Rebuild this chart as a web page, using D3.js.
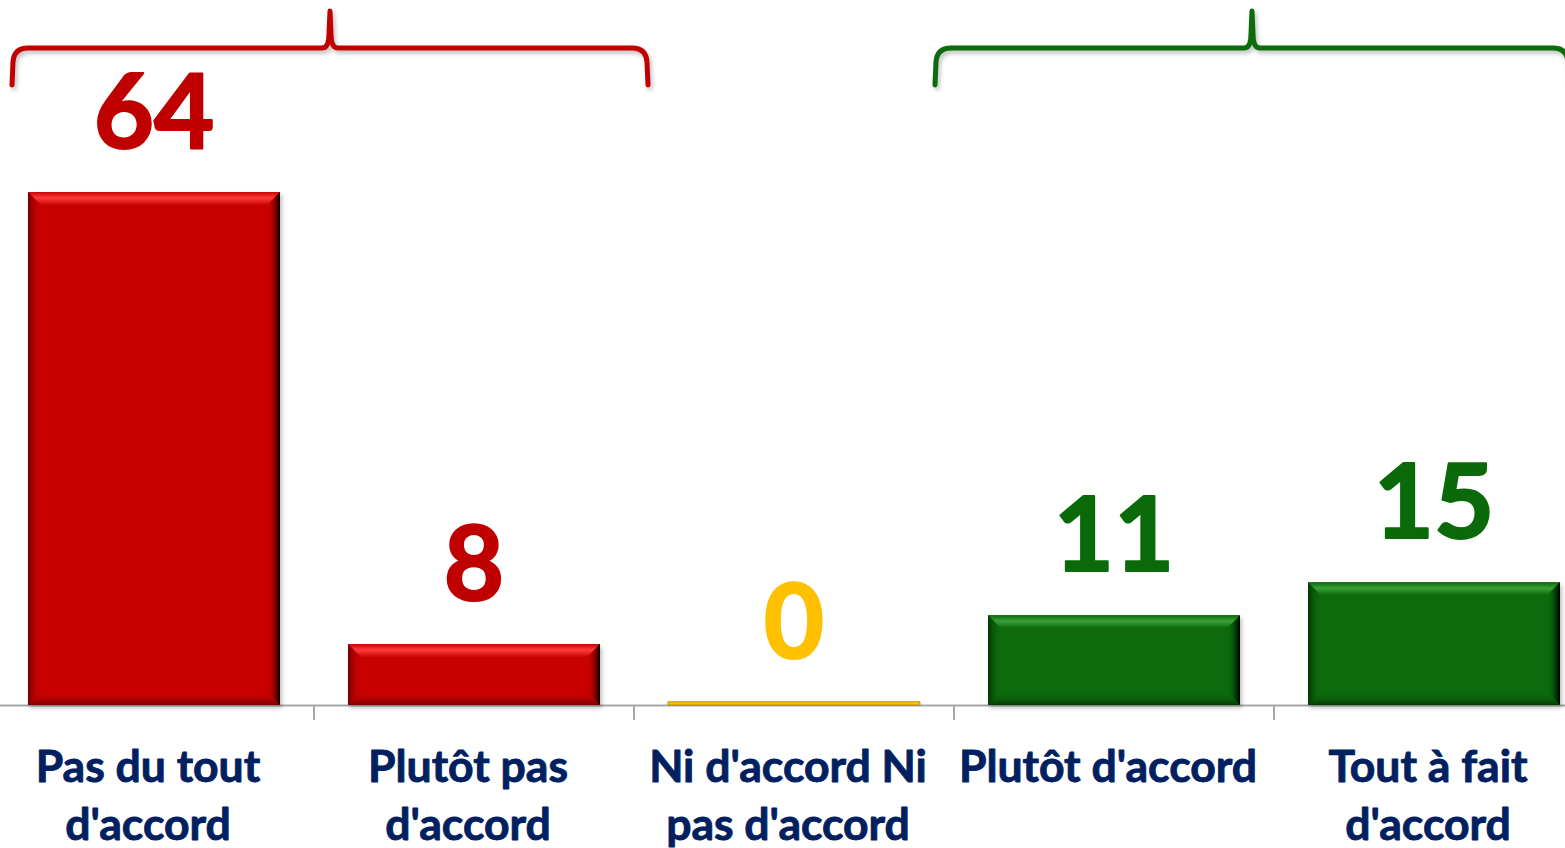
<!DOCTYPE html>
<html><head><meta charset="utf-8">
<script src="https://cdn.jsdelivr.net/npm/d3@7"></script>
<style>html,body{margin:0;padding:0;background:#fff;overflow:hidden}</style>
</head><body>
<svg id="chart" width="1565" height="848"></svg>
<script>
// ---- data ----
const categories = ["Pas du tout d'accord", "Plutôt pas d'accord", "Ni d'accord Ni pas d'accord", "Plutôt d'accord", "Tout à fait d'accord"];
const categoryLines = [["Pas du tout", "d'accord"], ["Plutôt pas", "d'accord"], ["Ni d'accord Ni", "pas d'accord"], ["Plutôt d'accord"], ["Tout à fait", "d'accord"]];
const values = [64, 7.6, 0.4, 11.2, 15.3];
const valueLabels = ["64", "8", "0", "11", "15"];
const groups = ["neg", "neg", "neutral", "pos", "pos"];
const braceGroups = [{key: "neg", from: 0, to: 1}, {key: "pos", from: 3, to: 4}];

// ---- styles ----
const colors = {neg: "#C80606", pos: "#086A08", neutral: "#FFC000"};
const labelColors = {neg: "#C00000", pos: "#0A6A0A", neutral: "#FFC000"};
const dark = {neg: "#5a0000", pos: "#012a01", neutral: "#b08000"};
const light = {neg: "#ff3a3a", pos: "#3aa03a", neutral: "#ffe070"};

const svg = d3.select("#chart");
const W = 1565, H = 848;
const baseY = 705;

const x = d3.scaleBand().domain(categories).range([-6, 1594]).paddingInner(0.2125).paddingOuter(0.10625);
const y = d3.scaleLinear().domain([0, 64]).range([baseY, 192]);

const defs = svg.append("defs");
const sh = defs.append("filter").attr("id", "shadow").attr("x", "-10%").attr("y", "-30%").attr("width", "120%").attr("height", "160%");
sh.append("feDropShadow").attr("dx", 2).attr("dy", 3).attr("stdDeviation", 2).attr("flood-color", "#000").attr("flood-opacity", 0.25);

function grad(id, x1, y1, x2, y2, stops) {
  const g = defs.append("linearGradient").attr("id", id).attr("x1", x1).attr("y1", y1).attr("x2", x2).attr("y2", y2);
  stops.forEach(s => g.append("stop").attr("offset", s[0]).attr("stop-color", s[1]).attr("stop-opacity", s[2] == null ? 1 : s[2]));
}
Object.keys(colors).forEach(k => {
  grad("top-" + k, 0, 0, 0, 1, [[0, colors[k]], [0.45, light[k]], [1, colors[k]]]);
  grad("left-" + k, 0, 0, 1, 0, [[0, dark[k], 0.8], [1, colors[k], 0]]);
  grad("right-" + k, 1, 0, 0, 0, [[0, "#000", 1], [0.35, dark[k], 0.7], [1, colors[k], 0]]);
  grad("bottom-" + k, 0, 1, 0, 0, [[0, dark[k], 0.75], [1, colors[k], 0]]);
});

// axis line
svg.append("line").attr("x1", 0).attr("x2", W).attr("y1", baseY + 0.5).attr("y2", baseY + 0.5)
  .attr("stroke", "#a6a6a6").attr("stroke-width", 2);
// ticks at band boundaries
const step = x.step();
const bounds = categories.slice(1).map(c => x(c) - x.paddingInner() * step / 2);
svg.selectAll("line.tick").data(bounds).join("line").attr("class", "tick")
  .attr("x1", d => d).attr("x2", d => d).attr("y1", baseY).attr("y2", baseY + 15)
  .attr("stroke", "#a6a6a6").attr("stroke-width", 2);

// bars
const bw = x.bandwidth();
const bars = svg.append("g").selectAll("g").data(categories).join("g");
bars.each(function(c, i) {
  const g = d3.select(this);
  const k = groups[i];
  const x0 = x(c), x1 = x0 + bw, y0 = y(values[i]), y1 = y(0);
  const h = y1 - y0;
  if (h < 8) {
    g.append("rect").attr("x", x0).attr("y", y0).attr("width", bw).attr("height", h)
      .attr("fill", colors[k]).attr("stroke", dark[k]).attr("stroke-width", 0.8);
    return;
  }
  g.append("rect").attr("x", x0).attr("y", y0).attr("width", bw).attr("height", h)
    .attr("fill", colors[k]).attr("filter", "url(#shadow)");
  const b = Math.min(13, h / 2);
  g.append("path").attr("d", `M${x0},${y0}L${x1},${y0}L${x1 - b},${y0 + b}L${x0 + b},${y0 + b}Z`).attr("fill", `url(#top-${k})`);
  g.append("path").attr("d", `M${x0},${y1}L${x1},${y1}L${x1 - b},${y1 - b}L${x0 + b},${y1 - b}Z`).attr("fill", `url(#bottom-${k})`);
  g.append("path").attr("d", `M${x0},${y0}L${x0 + b},${y0 + b}L${x0 + b},${y1 - b}L${x0},${y1}Z`).attr("fill", `url(#left-${k})`);
  g.append("path").attr("d", `M${x1},${y0}L${x1 - b},${y0 + b}L${x1 - b},${y1 - b}L${x1},${y1}Z`).attr("fill", `url(#right-${k})`);
});

// value labels
svg.append("g").selectAll("text").data(categories).join("text")
  .attr("x", c => x(c) + bw / 2)
  .attr("y", (c, i) => y(values[i]) - 44)
  .attr("text-anchor", "middle")
  .attr("font-family", "Lato, 'Open Sans', sans-serif").attr("font-weight", 700)
  .attr("font-size", 104)
  .attr("fill", (c, i) => labelColors[groups[i]])
  .attr("stroke", (c, i) => labelColors[groups[i]]).attr("stroke-width", 2.2).attr("stroke-linejoin", "round")
  .text((c, i) => valueLabels[i]);

// category labels
const cl = svg.append("g").selectAll("text").data(categories).join("text")
  .attr("x", c => x(c) + bw / 2 - 6)
  .attr("y", 782)
  .attr("text-anchor", "middle")
  .attr("font-family", "Lato, 'Open Sans', sans-serif").attr("font-weight", 700)
  .attr("font-size", 44.5)
  .attr("fill", "#002060")
  .attr("stroke", "#002060").attr("stroke-width", 0.9).attr("stroke-linejoin", "round");
cl.each(function(c, i) {
  d3.select(this).selectAll("tspan").data(categoryLines[i]).join("tspan")
    .attr("x", x(c) + bw / 2 - 6).attr("dy", (d, j) => j === 0 ? 0 : 58).text(d => d);
});

// braces
braceGroups.forEach(bg => {
  const xa = x(categories[bg.from]) + (bg.key === "neg" ? -16 : -53);
  const xb = x(categories[bg.to]) + bw + (bg.key === "neg" ? 48 : 9);
  const cx = (xa + xb) / 2;
  const yl = 48, yb = 85, yt = 11;
  const d = `M${xa},${yb} L${xa + 1},${yl + 14} Q${xa + 2},${yl} ${xa + 16},${yl} L${cx - 8},${yl} Q${cx - 1},${yl} ${cx - 1},${yl - 14} L${cx},${yt} ` +
            `L${cx + 1},${yl - 14} Q${cx + 1},${yl} ${cx + 8},${yl} L${xb - 16},${yl} Q${xb - 2},${yl} ${xb - 1},${yl + 14} L${xb},${yb}`;
  svg.append("path").attr("d", d).attr("fill", "none")
    .attr("stroke", labelColors[bg.key]).attr("stroke-width", 5)
    .attr("stroke-linecap", "round").attr("stroke-linejoin", "round")
    .attr("filter", "url(#shadow)");
});
</script>
</body></html>
